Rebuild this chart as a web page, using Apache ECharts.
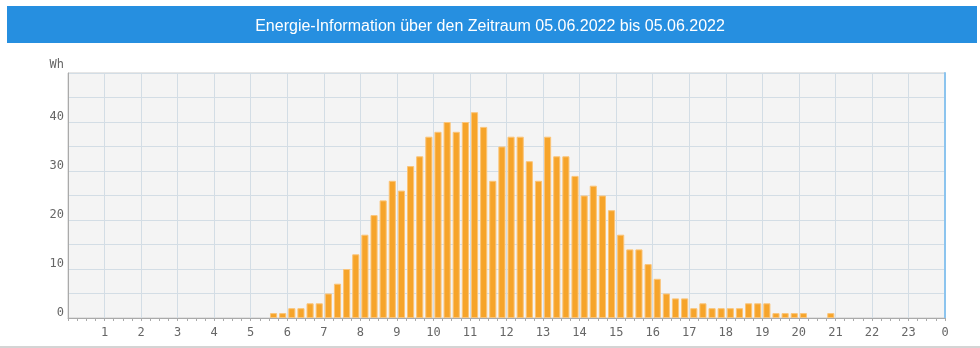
<!DOCTYPE html>
<html>
<head>
<meta charset="utf-8">
<script src="https://cdn.jsdelivr.net/npm/echarts@6/dist/echarts.min.js"></script>
<style>
html,body{margin:0;padding:0;background:#fff;}
#chart{width:980px;height:348px;}
</style>
</head>
<body>
<div id="chart"></div>
<script>
var titleText = 'Energie-Information über den Zeitraum 05.06.2022 bis 05.06.2022';
var unitLabel = 'Wh';

// quarter-hour categories 00:00 .. 23:45
var categories = [];
for (var h = 0; h < 24; h++) {
  for (var q = 0; q < 4; q++) {
    categories.push((h < 10 ? '0' : '') + h + ':' + (q === 0 ? '00' : q * 15));
  }
}

// energy per quarter hour (Wh), index = hour*4 + quarter
var hours00to05 = [0,0,0,0, 0,0,0,0, 0,0,0,0, 0,0,0,0, 0,0,0,0, 0,0,1,1];
var hours06to11 = [2,2,3,3, 5,7,10,13, 17,21,24,28, 26,31,33,37, 38,40,38,40, 42,39,28,35];
var hours12to17 = [37,37,32,28, 37,33,33,29, 25,27,25,22, 17,14,14,11, 8,5,4,4, 2,3,2,2];
var hours18to23 = [2,2,3,3, 3,1,1,1, 1,0,0,1, 0,0,0,0, 0,0,0,0, 0,0,0,0];
var values = hours00to05.concat(hours06to11, hours12to17, hours18to23);

// hour tick labels (value 0..24)
var hourLabels = ['', '1','2','3','4','5','6','7','8','9','10','11','12','13','14','15','16','17','18','19','20','21','22','23','0'];

var chart = echarts.init(document.getElementById('chart'));
var labelFont = 'DejaVu Sans Mono';
var gridColor = '#d3dde5';

var barData = values.map(function (v) {
  return v === 0 ? {value: v, itemStyle: {borderWidth: 0}} : v;
});

chart.setOption({
  animation: false,
  title: {
    text: titleText,
    left: 'center',
    top: 14,
    textStyle: {color: '#ffffff', fontSize: 16, fontWeight: 'normal', fontFamily: 'Liberation Sans'}
  },
  graphic: [
    {type: 'rect', z: -10, shape: {x: 7, y: 6, width: 970, height: 37}, style: {fill: '#268fe0'}},
    {type: 'rect', z: -10, shape: {x: 0, y: 346, width: 980, height: 2}, style: {fill: '#d4d4d4'}}
  ],
  grid: {
    left: 68, top: 73, right: 35, bottom: 30,
    show: true, backgroundColor: '#f4f4f4', borderColor: '#cccccc', borderWidth: 1
  },
  xAxis: [
    {
      type: 'category',
      data: categories,
      boundaryGap: true,
      axisLine: {show: true, lineStyle: {color: '#aaaaaa'}},
      axisTick: {show: true, interval: 0, length: 3, lineStyle: {color: '#aaaaaa'}},
      axisLabel: {show: false},
      splitLine: {show: false}
    },
    {
      type: 'value',
      position: 'bottom',
      min: 0, max: 24, interval: 1,
      axisLine: {show: false},
      axisTick: {show: false},
      axisLabel: {
        margin: 9,
        color: '#666666', fontSize: 12, fontFamily: labelFont,
        formatter: function (v) { return hourLabels[v]; }
      },
      splitLine: {show: true, lineStyle: {color: gridColor, width: 1}}
    }
  ],
  yAxis: [
    {
      type: 'value',
      min: 0, max: 50, interval: 5,
      name: unitLabel,
      nameLocation: 'end',
      nameGap: 2,
      nameTextStyle: {color: '#666666', fontSize: 12, fontFamily: labelFont, align: 'right', verticalAlign: 'bottom', padding: [0, 4, 0, 0]},
      axisLine: {show: true, lineStyle: {color: '#aaaaaa'}},
      axisTick: {show: false},
      axisLabel: {
        margin: 4,
        verticalAlign: 'bottom',
        padding: [0, 0, -1, 0],
        color: '#666666', fontSize: 12, fontFamily: labelFont,
        formatter: function (v) { return (v % 10 === 0 && v < 50) ? String(v) : ''; }
      },
      splitLine: {show: true, lineStyle: {color: gridColor, width: 1}}
    },
    {
      type: 'value',
      position: 'right',
      min: 0, max: 50, interval: 5,
      axisLine: {show: true, lineStyle: {color: '#8cc4ee', width: 2}},
      axisTick: {show: false},
      axisLabel: {show: false},
      splitLine: {show: false}
    }
  ],
  series: [
    {
      type: 'bar',
      xAxisIndex: 0,
      yAxisIndex: 0,
      data: barData,
      barCategoryGap: '22%',
      itemStyle: {color: '#f6a42a', borderColor: '#fbc478', borderWidth: 1}
    }
  ]
});
</script>
</body>
</html>
